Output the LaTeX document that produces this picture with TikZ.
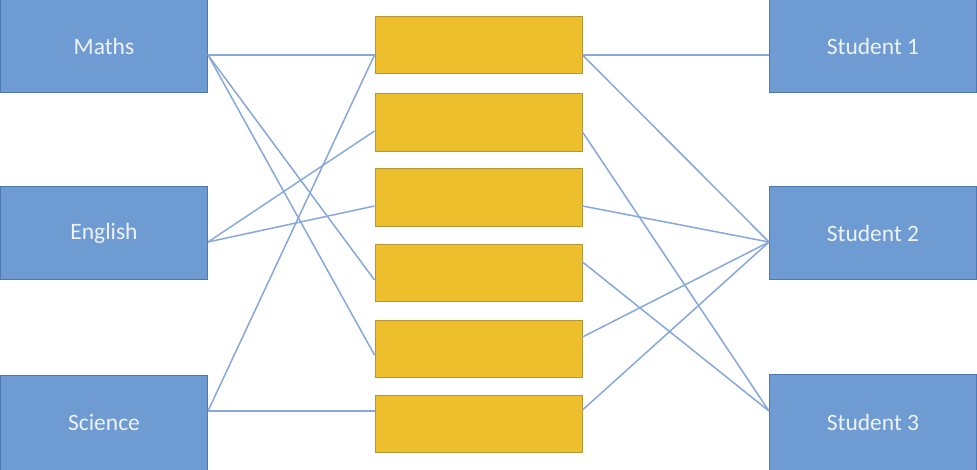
\documentclass[tikz,border=0pt]{standalone}
\usepackage{fontspec}
\setmainfont{Carlito}
\definecolor{bfill}{HTML}{6F9BD3}
\definecolor{bdraw}{HTML}{4F77B0}
\definecolor{btext}{HTML}{EEF2FA}
\definecolor{yfill}{HTML}{EDBF2D}
\definecolor{ydraw}{HTML}{B9953A}
\definecolor{lcol}{HTML}{86A8DA}
\newcommand{\lbltxt}[1]{\raisebox{-2.5pt}{#1}}
\tikzset{
  bluebox/.style={rectangle, fill=bfill, draw=bdraw, line width=1pt, minimum width=207pt, minimum height=93pt, inner sep=0pt, text=btext, font=\fontsize{23.5}{28}\selectfont},
  goldbox/.style={rectangle, fill=yfill, draw=ydraw, line width=1pt, minimum width=207pt, minimum height=57pt, inner sep=0pt},
  link/.style={draw=lcol, line width=1.5pt}
}
\begin{document}
\begin{tikzpicture}[x=1pt,y=-1pt]
\useasboundingbox (0,0) rectangle (977,470);
\clip (0,0) rectangle (977,470);
\fill[white] (0,0) rectangle (977,470);
% left boxes
\node[bluebox] (maths) at (104,46.5) {\lbltxt{Maths}};
\node[bluebox] (english) at (104,233.5) {\lbltxt{English}};
\node[bluebox, minimum height=95pt] (science) at (104,422.5) {\lbltxt{Science}};
% right boxes
\node[bluebox] (s1) at (873,46.5) {\lbltxt{Student 1}};
\node[bluebox] (s2) at (873,233.5) {\lbltxt{Student 2}};
\node[bluebox, minimum height=96pt] (s3) at (873,422) {\lbltxt{Student 3}};
% middle boxes
\node[goldbox] (y1) at (478.5,45.5) {};
\node[goldbox, minimum height=58pt] (y2) at (478.5,123) {};
\node[goldbox, minimum height=58pt] (y3) at (478.5,198) {};
\node[goldbox] (y4) at (478.5,273.5) {};
\node[goldbox] (y5) at (478.5,348.5) {};
\node[goldbox] (y6) at (478.5,423.5) {};
% left connectors
\path[link] ([yshift=-8.5pt]maths.east) -- ([yshift=-9.5pt]y1.west);
\path[link] ([yshift=-8.5pt]maths.east) -- ([yshift=-6.5pt]y4.west);
\path[link] ([yshift=-8.5pt]maths.east) -- ([yshift=-6.5pt]y5.west);
\path[link] ([yshift=-8.5pt]english.east) -- ([yshift=-8pt]y2.west);
\path[link] ([yshift=-8.5pt]english.east) -- ([yshift=-8pt]y3.west);
\path[link] ([yshift=11.5pt]science.east) -- ([yshift=-9.5pt]y1.west);
\path[link] ([yshift=11.5pt]science.east) -- ([yshift=12.5pt]y6.west);
% right connectors
\path[link] ([yshift=-9.5pt]y1.east) -- ([yshift=-8.5pt]s1.west);
\path[link] ([yshift=-9.5pt]y1.east) -- ([yshift=-8.5pt]s2.west);
\path[link] ([yshift=-9pt]y2.east) -- ([yshift=11pt]s3.west);
\path[link] ([yshift=-8pt]y3.east) -- ([yshift=-8.5pt]s2.west);
\path[link] ([yshift=11.5pt]y4.east) -- ([yshift=11pt]s3.west);
\path[link] ([yshift=11.5pt]y5.east) -- ([yshift=-8.5pt]s2.west);
\path[link] ([yshift=13.5pt]y6.east) -- ([yshift=-8.5pt]s2.west);
\end{tikzpicture}
\end{document}
